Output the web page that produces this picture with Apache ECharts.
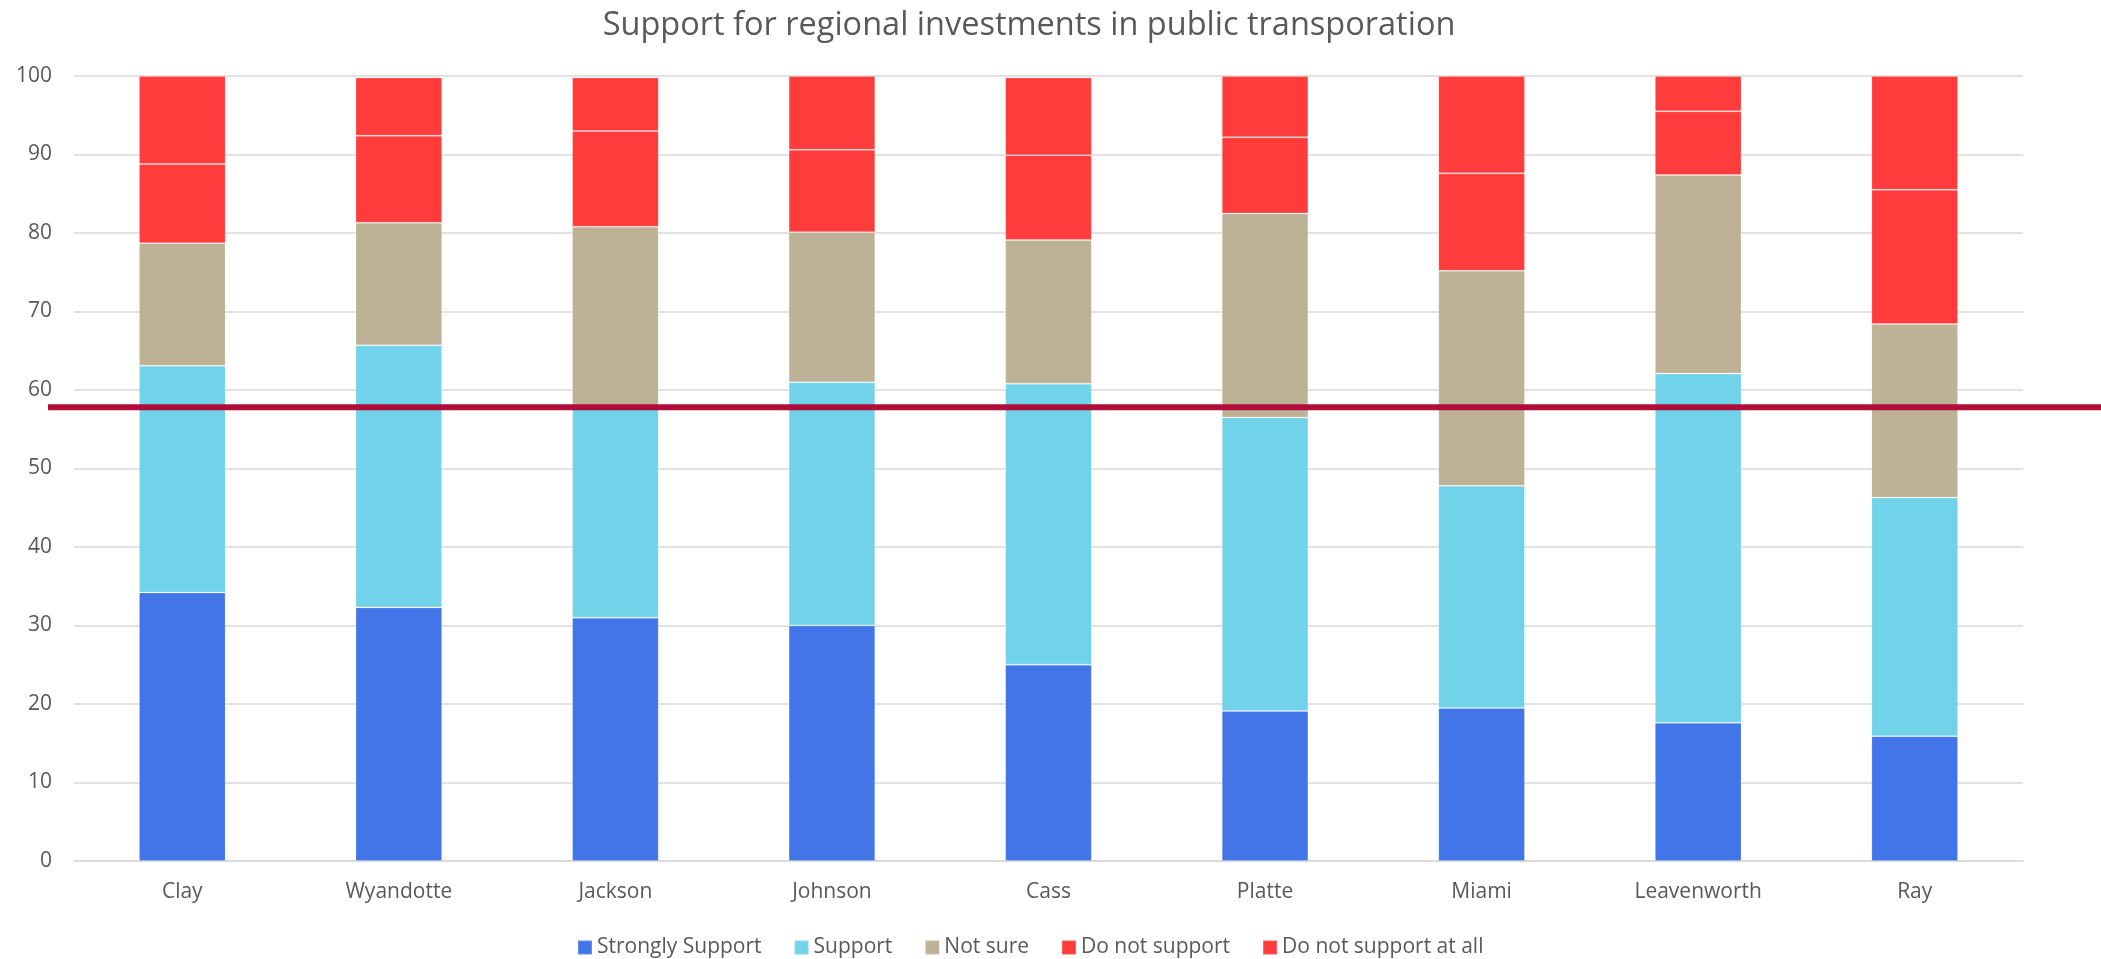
<!DOCTYPE html>
<html>
<head>
<meta charset="utf-8">
<script src="https://cdn.jsdelivr.net/npm/echarts@6/dist/echarts.min.js"></script>
<style>
  html, body { margin: 0; padding: 0; background: #ffffff; }
  #chart { width: 2101px; height: 959px; }
</style>
</head>
<body>
<div id="chart"></div>
<script>
// ---- Data ----
const titleText = 'Support for regional investments in public transporation';
const categories = ['Clay', 'Wyandotte', 'Jackson', 'Johnson', 'Cass', 'Platte', 'Miami', 'Leavenworth', 'Ray'];
const seriesNames = ['Strongly Support', 'Support', 'Not sure', 'Do not support', 'Do not support at all'];
const stronglySupport = [34.2, 32.3, 31.0, 30.0, 25.0, 19.1, 19.5, 17.6, 15.9];
const support         = [28.9, 33.4, 26.7, 31.0, 35.8, 37.4, 28.3, 44.5, 30.4];
const notSure         = [15.6, 15.6, 23.1, 19.1, 18.3, 26.0, 27.4, 25.3, 22.1];
const doNotSupport    = [10.1, 11.1, 12.2, 10.5, 10.8,  9.7, 12.4,  8.1, 17.1];
const doNotSupportAll = [11.2,  7.4,  6.8,  9.4,  9.9,  7.8, 12.4,  4.5, 14.5];
const thresholdValue = 57.8;
const yTicks = { min: 0, max: 100, interval: 10 };

// ---- Styles ----
const colors = ['#4275E8', '#71D3E9', '#BDB196', '#FF3C3C', '#FF3C3C'];
const textColor = '#595959';
const gridColor = '#D9D9D9';
const fontFamily = '"Open Sans", "Noto Sans", sans-serif';

const valueSets = [stronglySupport, support, notSure, doNotSupport, doNotSupportAll];

const barSeries = seriesNames.map((name, i) => ({
  name: name,
  type: 'bar',
  stack: 'total',
  xAxisIndex: 0,
  yAxisIndex: 0,
  barCategoryGap: '60%',
  data: valueSets[i],
  itemStyle: {
    color: colors[i],
    borderColor: 'rgba(255,255,255,0.18)',
    borderWidth: 1
  },
  emphasis: { disabled: true },
  z: 2
}));

const thresholdSeries = {
  name: 'threshold',
  type: 'line',
  xAxisIndex: 1,
  yAxisIndex: 1,
  data: [[0, thresholdValue], [1, thresholdValue]],
  symbol: 'none',
  lineStyle: { color: '#B10D3A', width: 6 },
  silent: true,
  z: 10
};

const chart = echarts.init(document.getElementById('chart'), null, { renderer: 'canvas' });
chart.setOption({
  animation: false,
  backgroundColor: '#ffffff',
  textStyle: { fontFamily: fontFamily, color: textColor },
  title: {
    text: titleText,
    left: 1024,
    textAlign: 'center',
    top: 4,
    textStyle: { fontFamily: fontFamily, fontSize: 32.5, fontWeight: 'normal', color: textColor }
  },
  legend: {
    data: seriesNames,
    left: 572,
    top: 932,
    icon: 'rect',
    itemWidth: 14,
    itemHeight: 14,
    itemGap: 32,
    selectedMode: false,
    textStyle: { fontFamily: fontFamily, fontSize: 21, color: textColor }
  },
  grid: [
    { left: 74, right: 78, top: 76, bottom: 98, containLabel: false },
    { left: 48, right: 0, top: 76, bottom: 98, containLabel: false }
  ],
  xAxis: [
    {
      type: 'category',
      gridIndex: 0,
      data: categories,
      axisLine: { show: true, lineStyle: { color: gridColor, width: 1.5 } },
      axisTick: { show: false },
      axisLabel: { color: textColor, fontSize: 21, fontFamily: fontFamily, margin: 21 }
    },
    {
      type: 'value',
      gridIndex: 1,
      min: 0,
      max: 1,
      show: false
    }
  ],
  yAxis: [
    {
      type: 'value',
      gridIndex: 0,
      min: yTicks.min,
      max: yTicks.max,
      interval: yTicks.interval,
      axisLine: { show: false },
      axisTick: { show: false },
      splitLine: { show: true, lineStyle: { color: gridColor, width: 1.5 } },
      axisLabel: { color: textColor, fontSize: 21, fontFamily: fontFamily, margin: 22 }
    },
    {
      type: 'value',
      gridIndex: 1,
      min: yTicks.min,
      max: yTicks.max,
      show: false
    }
  ],
  series: [...barSeries, thresholdSeries]
});
</script>
</body>
</html>
